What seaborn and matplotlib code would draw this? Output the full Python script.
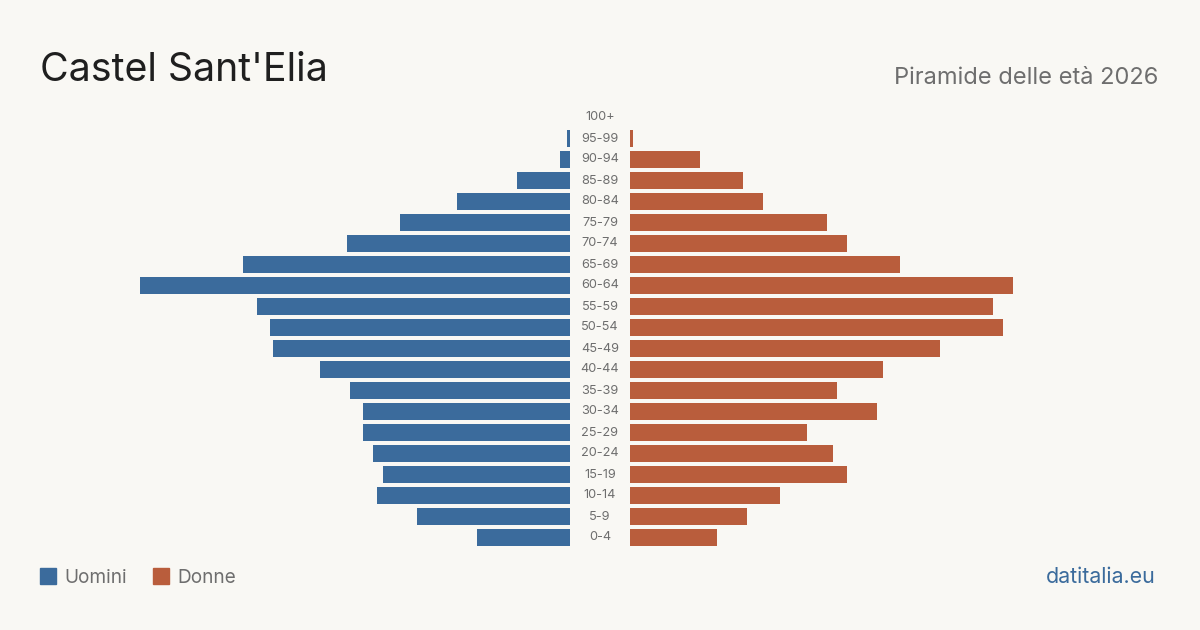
import numpy as np
import pandas as pd
import seaborn as sns
import matplotlib.pyplot as plt

# fasce d'età (dall'alto in basso)
eta = ['100+', '95-99', '90-94', '85-89', '80-84', '75-79', '70-74', '65-69',
       '60-64', '55-59', '50-54', '45-49', '40-44', '35-39', '30-34', '25-29',
       '20-24', '15-19', '10-14', '5-9', '0-4']
uomini = [0, 1, 3, 16, 34, 51, 67, 98, 129, 94, 90, 89, 75, 66, 62, 62, 59, 56, 58, 46, 28]
donne = [0, 1, 21, 34, 40, 59, 65, 81, 115, 109, 112, 93, 76, 62, 74, 53, 61, 65, 45, 35, 26]

col_u = '#3b6b9c'
col_d = '#b95d3c'
bg = '#f9f8f4'

df = pd.DataFrame({'eta': eta, 'uomini': uomini, 'donne': donne})

sns.set_theme(style='white')
plt.rcParams['font.family'] = ['Inter', 'DejaVu Sans']

fig = plt.figure(figsize=(12, 6.3), dpi=100)
fig.patch.set_facecolor(bg)

# assi: sinistra uomini, destra donne (pixel 40-570 e 630-1160)
y0 = 1 - 548 / 630
h = 441 / 630
ax_l = fig.add_axes([40 / 1200, y0, 530 / 1200, h])
ax_r = fig.add_axes([630 / 1200, y0, 530 / 1200, h])

sns.barplot(data=df, y='eta', x='uomini', order=eta, color=col_u, width=0.81,
            saturation=1, linewidth=0, ax=ax_l)
sns.barplot(data=df, y='eta', x='donne', order=eta, color=col_d, width=0.81,
            saturation=1, linewidth=0, ax=ax_r)

ax_l.set_xlim(159, 0)
ax_r.set_xlim(0, 159)
for ax in (ax_l, ax_r):
    ax.set_facecolor('none')
    ax.set_ylim(len(eta) - 0.5, -0.5)
    ax.set_xlabel('')
    ax.set_ylabel('')
    ax.set_xticks([])
    ax.set_yticks([])
    for s in ax.spines.values():
        s.set_visible(False)

# etichette centrali
for i, lab in enumerate(eta):
    ax_l.text(1 + 30 / 530, i, lab, transform=ax_l.get_yaxis_transform(),
              ha='center', va='center', fontsize=9.2, color='#6e6e6e')

fig.text(40 / 1200, 1 - 81 / 630, "Castel Sant'Elia", fontsize=28.3,
         color='#1f1f1f', ha='left', va='baseline')
fig.text(1158 / 1200, 1 - 84 / 630, 'Piramide delle età 2026', fontsize=17,
         color='#6e6e6e', ha='right', va='baseline')

# legenda
fig.patches.append(plt.Rectangle((40 / 1200, 1 - 584 / 630), 16 / 1200, 16 / 630,
                                 transform=fig.transFigure, color=col_u))
fig.text(64 / 1200, 1 - 583 / 630, 'Uomini', fontsize=13.7, color='#6e6e6e',
         ha='left', va='baseline')
fig.patches.append(plt.Rectangle((153 / 1200, 1 - 584 / 630), 16 / 1200, 16 / 630,
                                 transform=fig.transFigure, color=col_d))
fig.text(177 / 1200, 1 - 583 / 630, 'Donne', fontsize=13.7, color='#6e6e6e',
         ha='left', va='baseline')

fig.text(1156 / 1200, 1 - 583 / 630, 'datitalia.eu', fontsize=15.4,
         color=col_u, ha='right', va='baseline')

fig.savefig('out.png', dpi=100, facecolor=bg)
